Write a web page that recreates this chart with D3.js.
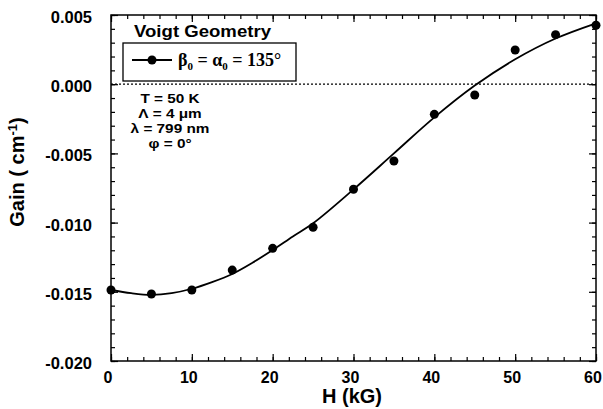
<!DOCTYPE html>
<html><head><meta charset="utf-8">
<script src="https://cdn.jsdelivr.net/npm/d3@7"></script>
<style>body{margin:0;background:#fff}svg{display:block}</style>
</head><body>
<svg id="chart" width="603" height="409"></svg>
<script>
// Data
const fieldH = [0, 5, 10, 15, 20, 25, 30, 35, 40, 45, 50, 55, 60];
const gainMeasured = [-0.01487, -0.01516, -0.01487, -0.01343, -0.01186, -0.01034, -0.00759, -0.00555, -0.00218, -0.00078, 0.00247, 0.00358, 0.00426];
const fitH = [0, 2.5, 5, 7.5, 10, 12.5, 15, 17.5, 20, 22.5, 25, 30, 35, 40, 45, 50, 55, 60];
const fitGain = [-0.01487, -0.0151, -0.01522, -0.0151, -0.01478, -0.0143, -0.01371, -0.0129, -0.01198, -0.0110, -0.01005, -0.0076, -0.0050, -0.0024, -0.0001, 0.0018, 0.0033, 0.0044];
const xTicks = [0, 10, 20, 30, 40, 50, 60];
const yTicks = [0.005, 0.000, -0.005, -0.010, -0.015, -0.020];
const infoLines = ["T = 50 K", "\u039B = 4 \u03BCm", "\u03BB = 799 nm", "\u03C6 = 0\u00B0"];

const svg = d3.select("#chart");
const L = 111, R = 596, T = 15, B = 361;
const x = d3.scaleLinear().domain([0, 60]).range([L, R]);
const y = d3.scaleLinear().domain([-0.020, 0.005]).range([B, T]);
const sans = "'Liberation Sans', Arial, Helvetica, sans-serif";

// zero line
svg.append("line").attr("x1", L).attr("x2", R).attr("y1", y(0)).attr("y2", y(0))
  .attr("stroke", "#000").attr("stroke-width", 1.2).attr("stroke-dasharray", "2,2");

// frame
svg.append("rect").attr("x", L).attr("y", T).attr("width", R - L).attr("height", B - T)
  .attr("fill", "none").attr("stroke", "#000").attr("stroke-width", 1.5);

// ticks via axes (inward)
const xMinor = d3.range(0, 60.01, 2);
const yMinor = d3.range(-0.020, 0.00501, 0.001);
function styleAxis(g) { g.select(".domain").remove(); g.selectAll("line").attr("stroke", "#000").attr("stroke-width", 1.2); g.selectAll("text").remove(); }
svg.append("g").attr("transform", `translate(0,${B})`).call(d3.axisBottom(x).tickValues(xMinor).tickSize(-4)).call(styleAxis);
svg.append("g").attr("transform", `translate(0,${B})`).call(d3.axisBottom(x).tickValues(xTicks).tickSize(-7)).call(styleAxis);
svg.append("g").attr("transform", `translate(0,${T})`).call(d3.axisTop(x).tickValues(xMinor).tickSize(-4)).call(styleAxis);
svg.append("g").attr("transform", `translate(0,${T})`).call(d3.axisTop(x).tickValues(xTicks).tickSize(-7)).call(styleAxis);
svg.append("g").attr("transform", `translate(${L},0)`).call(d3.axisLeft(y).tickValues(yMinor).tickSize(-4)).call(styleAxis);
svg.append("g").attr("transform", `translate(${L},0)`).call(d3.axisLeft(y).tickValues(yTicks).tickSize(-7)).call(styleAxis);
svg.append("g").attr("transform", `translate(${R},0)`).call(d3.axisRight(y).tickValues(yMinor).tickSize(-4)).call(styleAxis);
svg.append("g").attr("transform", `translate(${R},0)`).call(d3.axisRight(y).tickValues(yTicks).tickSize(-7)).call(styleAxis);

// tick labels
svg.append("g").selectAll("text").data(xTicks).join("text")
  .attr("x", d => x(d) - 3).attr("y", 383).attr("text-anchor", "middle")
  .attr("font-family", sans).attr("font-weight", "bold").attr("font-size", 16)
  .text(d => d);
svg.append("g").selectAll("text").data(yTicks).join("text")
  .attr("x", 92).attr("y", d => y(d) + 8).attr("text-anchor", "end")
  .attr("font-family", sans).attr("font-weight", "bold").attr("font-size", 16.5)
  .text(d => d3.format(".3f")(d).replace("\u2212", "-"));

// axis titles
svg.append("text").attr("x", 352).attr("y", 403).attr("text-anchor", "middle")
  .attr("font-family", sans).attr("font-weight", "bold").attr("font-size", 20).text("H (kG)");
const yt = svg.append("text").attr("transform", "translate(24,172) rotate(-90)").attr("text-anchor", "middle")
  .attr("font-family", sans).attr("font-weight", "bold").attr("font-size", 20);
yt.append("tspan").text("Gain ( cm");
yt.append("tspan").attr("dy", -7).attr("font-size", 13).text("-1");
yt.append("tspan").attr("dy", 7).text(")");

// fitted curve
const line = d3.line().x((d, i) => x(fitH[i])).y(d => y(d)).curve(d3.curveCatmullRom.alpha(0.5));
svg.append("path").datum(fitGain).attr("d", line).attr("fill", "none").attr("stroke", "#000").attr("stroke-width", 1.8);

// points
svg.append("g").selectAll("circle").data(gainMeasured).join("circle")
  .attr("cx", (d, i) => x(fieldH[i])).attr("cy", d => y(d)).attr("r", 4.5).attr("fill", "#000");

// title
svg.append("text").attr("x", 134).attr("y", 37).attr("font-family", sans).attr("font-weight", "bold")
  .attr("font-size", 16.5).attr("textLength", 137).attr("lengthAdjust", "spacingAndGlyphs").text("Voigt  Geometry");

// legend
svg.append("rect").attr("x", 123).attr("y", 43).attr("width", 173).attr("height", 38)
  .attr("fill", "#fff").attr("stroke", "#000").attr("stroke-width", 1.3);
svg.append("line").attr("x1", 132).attr("x2", 172).attr("y1", 60).attr("y2", 60).attr("stroke", "#000").attr("stroke-width", 1.8);
svg.append("circle").attr("cx", 152).attr("cy", 60).attr("r", 4.5).attr("fill", "#000");
const lt = svg.append("text").attr("x", 178).attr("y", 66).attr("font-family", "'Liberation Serif', 'Times New Roman', serif")
  .attr("font-size", 18).attr("font-weight", "bold");
lt.append("tspan").text("\u03B2");
lt.append("tspan").attr("dy", 4).attr("font-size", 11).text("0");
lt.append("tspan").attr("dy", -4).text(" = \u03B1");
lt.append("tspan").attr("dy", 4).attr("font-size", 11).text("0");
lt.append("tspan").attr("dy", -4).text(" = 135\u00B0");

// info text
svg.append("g").attr("transform", "translate(170,0) scale(1.18,1)")
  .selectAll("text").data(infoLines).join("text")
  .attr("x", 0).attr("y", (d, i) => 103 + i * 15).attr("text-anchor", "middle")
  .attr("font-family", sans).attr("font-weight", "bold").attr("font-size", 13)
  .text(d => d);
</script>
</body></html>
